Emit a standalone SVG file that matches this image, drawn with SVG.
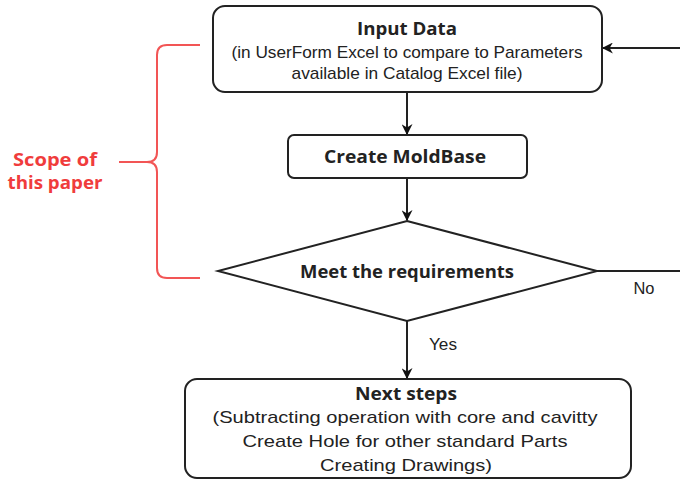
<svg xmlns="http://www.w3.org/2000/svg" width="680" height="480" viewBox="0 0 680 480">
<defs>
<marker id="arr" viewBox="0 0 10 10" refX="9" refY="5" markerWidth="11" markerHeight="11" markerUnits="userSpaceOnUse" orient="auto">
<path d="M0,0 L10,5 L0,10 L3,5 Z" fill="#111"/>
</marker>
<style>
.box{fill:#fff;stroke:#222;stroke-width:2}
.ln{fill:none;stroke:#222;stroke-width:2}
.t{font-family:"Liberation Sans",Arial,sans-serif;font-size:17px;fill:#222;text-anchor:middle}
.s{font-size:16px}
.b{font-family:"Open Sans","Liberation Sans",Arial,sans-serif;font-weight:bold;font-size:18px}
.red{font-family:"Open Sans","Liberation Sans",Arial,sans-serif;font-size:18px;font-weight:bold;fill:#f03c3c;text-anchor:middle}
</style>
</defs>
<rect width="680" height="480" fill="#fff"/>
<g id="connectors">
<line class="ln" x1="407" y1="93" x2="407" y2="134" marker-end="url(#arr)"/>
<line class="ln" x1="407" y1="179" x2="407" y2="220" marker-end="url(#arr)"/>
<line class="ln" x1="407" y1="321" x2="407" y2="378" marker-end="url(#arr)"/>
<polyline class="ln" points="597,271 680,271"/>
<line class="ln" x1="680" y1="48" x2="603" y2="48" marker-end="url(#arr)"/>
<text class="t s" x="644" y="294" textLength="21" lengthAdjust="spacingAndGlyphs">No</text>
<text class="t s" x="443" y="350" textLength="28" lengthAdjust="spacingAndGlyphs">Yes</text>
</g>
<g id="input">
<rect class="box" x="213" y="6" width="389" height="86" rx="12"/>
<text class="t b" x="407" y="35" textLength="100" lengthAdjust="spacingAndGlyphs">Input Data</text>
<text class="t" x="407" y="58" textLength="351" lengthAdjust="spacingAndGlyphs">(in UserForm Excel to compare to Parameters</text>
<text class="t" x="407" y="79" textLength="231" lengthAdjust="spacingAndGlyphs">available in Catalog Excel file)</text>
</g>
<g id="create">
<rect class="box" x="288" y="135" width="239" height="43" rx="6"/>
<text class="t b" x="405" y="163" textLength="162" lengthAdjust="spacingAndGlyphs">Create MoldBase</text>
</g>
<g id="decision">
<polygon class="box" points="407,221 597,271 407,321 218,271"/>
<text class="t b" x="407" y="278" textLength="214" lengthAdjust="spacingAndGlyphs">Meet the requirements</text>
</g>
<g id="next">
<rect class="box" x="185" y="379" width="446" height="99" rx="12"/>
<text class="t b" x="406" y="400" textLength="102" lengthAdjust="spacingAndGlyphs">Next steps</text>
<text class="t" x="405" y="423" textLength="385" lengthAdjust="spacingAndGlyphs">(Subtracting operation with core and cavitty</text>
<text class="t" x="405" y="447" textLength="325" lengthAdjust="spacingAndGlyphs">Create Hole for other standard Parts</text>
<text class="t" x="406" y="471" textLength="172" lengthAdjust="spacingAndGlyphs">Creating Drawings)</text>
</g>
<g id="scope">
<path d="M200,45 H167 Q157,45 157,55 V152 Q157,162 147,162 H119 M147,162 Q157,162 157,172 V268 Q157,278 167,278 H200" fill="none" stroke="#f25555" stroke-width="2"/>
<text class="red" x="55" y="166" textLength="84" lengthAdjust="spacingAndGlyphs">Scope of</text>
<text class="red" x="55" y="189" textLength="95" lengthAdjust="spacingAndGlyphs">this paper</text>
</g>
</svg>
